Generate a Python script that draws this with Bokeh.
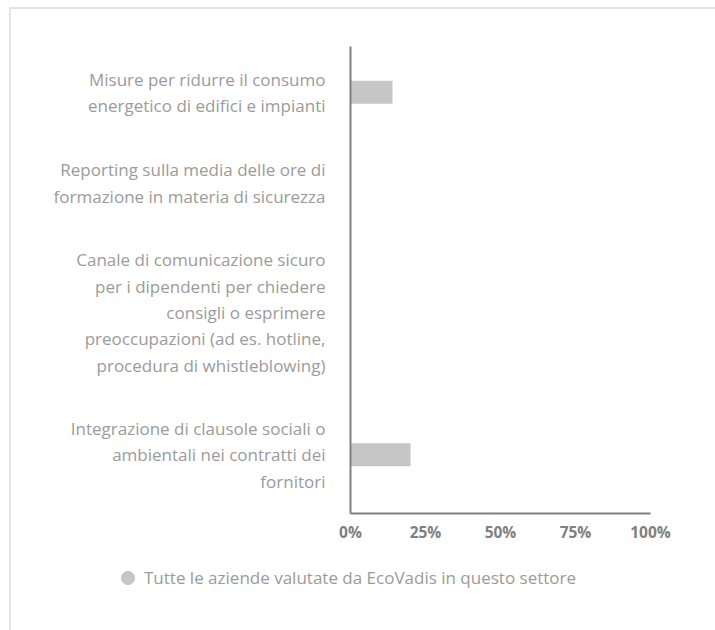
from bokeh.plotting import figure
from bokeh.layouts import column
from bokeh.models import Range1d, FixedTicker, Legend, LegendItem
from bokeh.embed import file_html
from bokeh.resources import INLINE

# ---- data ----
categories = [
    "Misure per ridurre il consumo\nenergetico di edifici e impianti",
    "Reporting sulla media delle ore di\nformazione in materia di sicurezza",
    "Canale di comunicazione sicuro\nper i dipendenti per chiedere\nconsigli o esprimere\npreoccupazioni (ad es. hotline,\nprocedura di whistleblowing)",
    "Integrazione di clausole sociali o\nambientali nei contratti dei\nfornitori",
]
values = [14, 0, 0, 20]
x_ticks = [0, 25, 50, 75, 100]
x_tick_labels = ["0%", "25%", "50%", "75%", "100%"]
series_name = "Tutte le aziende valutate da EcoVadis in questo settore"

# ---- layout: rows sized by the number of label lines ----
LINE = 26
PAD = 39.25
heights = [LINE * (c.count("\n") + 1) + PAD for c in categories]
centers = []
acc = 0.0
for h in heights:
    centers.append(acc + h / 2)
    acc += h
total = acc
tick_pos = [round(c) for c in centers]

FONT = "Open Sans"
LABEL_COLOR = "#9b9b9b"
AXIS_COLOR = "#808080"
BAR_COLOR = "#c6c6c6"
LABEL_PX = 17

p = figure(
    width=704, height=536,
    x_range=Range1d(0, 100), y_range=Range1d(total, 0),
    output_backend="svg", toolbar_location=None,
    min_border_left=339, min_border_right=65, min_border_top=37, min_border_bottom=30,
)
p.outline_line_color = None
p.xgrid.grid_line_color = None
p.ygrid.grid_line_color = None

p.hbar(y=tick_pos, left=0, right=values, height=23, color=BAR_COLOR, line_color=None)

# x axis
p.xaxis.ticker = FixedTicker(ticks=x_ticks)
p.xaxis.major_label_overrides = {t: l for t, l in zip(x_ticks, x_tick_labels)}
p.xaxis.axis_line_color = AXIS_COLOR
p.xaxis.axis_line_width = 2
p.xaxis.major_tick_line_color = None
p.xaxis.minor_tick_line_color = None
p.xaxis.major_label_text_font = FONT
p.xaxis.major_label_text_font_style = "bold"
p.xaxis.major_label_text_font_size = "15.5px"
p.xaxis.major_label_text_color = AXIS_COLOR
p.xaxis.major_label_standoff = 1

# y axis
p.yaxis.ticker = FixedTicker(ticks=tick_pos)
p.yaxis.major_label_overrides = {t: c for t, c in zip(tick_pos, categories)}
p.yaxis.axis_line_color = AXIS_COLOR
p.yaxis.axis_line_width = 2
p.yaxis.major_tick_line_color = None
p.yaxis.minor_tick_line_color = None
p.yaxis.major_label_text_font = FONT
p.yaxis.major_label_text_font_size = f"{LABEL_PX}px"
p.yaxis.major_label_text_color = LABEL_COLOR
p.yaxis.major_label_text_line_height = 1.145
p.yaxis.major_label_standoff = 19

# legend in its own strip below the chart
lf = figure(
    width=704, height=85,
    x_range=Range1d(0, 1), y_range=Range1d(0, 1),
    output_backend="svg", toolbar_location=None,
    min_border_left=0, min_border_right=0, min_border_top=0, min_border_bottom=0,
)
for fig in (p, lf):
    if "frame_align" in fig.properties():
        fig.frame_align = False
lf.axis.visible = False
lf.xgrid.grid_line_color = None
lf.ygrid.grid_line_color = None
lf.outline_line_color = None
lg = lf.scatter(x=[-10], y=[-10], size=13, color=BAR_COLOR, marker="circle")
legend = Legend(
    items=[LegendItem(label=series_name, renderers=[lg])],
    location=(100, 36),
    orientation="horizontal",
    padding=0, margin=0, spacing=0,
    glyph_width=33, glyph_height=33, label_height=33,
    label_standoff=0,
    label_text_font=FONT, label_text_font_size="17px", label_text_color=LABEL_COLOR,
    border_line_color=None, background_fill_alpha=0,
)
lf.add_layout(legend, "center")

layout = column(
    p, lf, spacing=0,
    margin=(7, 0, 0, 9),
    styles={"border-top": "2px solid #e4e4e4", "border-left": "2px solid #e4e4e4"},
)

open("out.html", "w").write(file_html(layout, INLINE))
